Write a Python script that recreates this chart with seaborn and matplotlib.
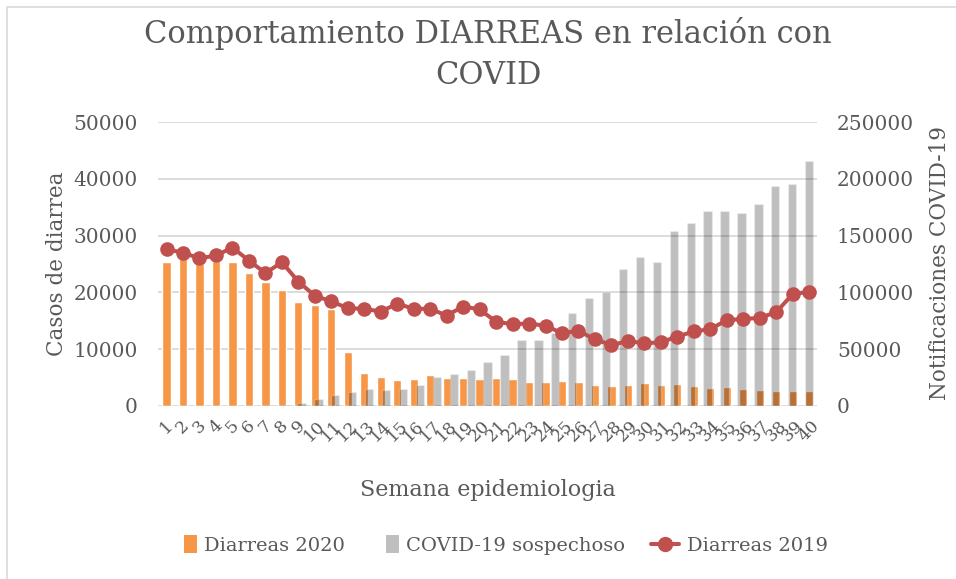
import numpy as np
import pandas as pd
import matplotlib
matplotlib.use("Agg")
import matplotlib.pyplot as plt
import seaborn as sns
from matplotlib.patches import Patch, Rectangle
from matplotlib.lines import Line2D
from matplotlib.legend_handler import HandlerPatch

# ---------------- data ----------------
weeks = list(range(1, 41))
diarreas_2020 = [25300, 26200, 25000, 25500, 25300, 23400, 21800, 20400, 18300, 17800,
                 17000, 9400, 5700, 5100, 4600, 4700, 5400, 4850, 4850, 4700,
                 4950, 4650, 4150, 4250, 4350, 4250, 3700, 3500, 3650, 3950,
                 3650, 3850, 3500, 3100, 3250, 2900, 2800, 2650, 2650, 2650]
diarreas_2019 = [27600, 27000, 26000, 26500, 27900, 25600, 23400, 25300, 21900, 19400,
                 18400, 17200, 17100, 16600, 18000, 17100, 17100, 15900, 17500, 17000,
                 14800, 14400, 14500, 14100, 12800, 13200, 11700, 10700, 11400, 11000,
                 11200, 12200, 13100, 13500, 15100, 15300, 15500, 16500, 19700, 20100]
covid_sospechoso = [0, 0, 0, 0, 0, 0, 0, 300, 600, 2700,
                    5800, 9100, 12100, 15000, 13900, 15000, 18500, 25600, 28000, 31200,
                    38300, 44700, 58000, 58000, 63900, 81500, 95300, 100600, 120600, 131200,
                    127000, 154100, 160900, 171700, 171700, 170200, 178200, 194000, 195500, 215800]
left_ticks = [0, 10000, 20000, 30000, 40000, 50000]
right_ticks = [0, 50000, 100000, 150000, 200000, 250000]

df = pd.DataFrame({"semana": weeks, "d2020": diarreas_2020,
                   "d2019": diarreas_2019, "covid": covid_sospechoso})

# ---------------- style ----------------
ORANGE = "#F79646"
RED = "#C0504D"
TXT = "#595959"
GRID = "#D9D9D9"

sns.set_style("white")
plt.rcParams["font.family"] = ["DejaVu Serif", "DejaVu Sans"]

fig = plt.figure(figsize=(9.56, 5.79), dpi=100)
rect = [158.3 / 956, 1 - 405.7 / 579, (817.4 - 158.3) / 956, 283.4 / 579]
ax_w_px = 817.4 - 158.3
ax_h_px = 283.4

# primary axis: orange bars
ax = fig.add_axes(rect)
sns.barplot(data=df, x="semana", y="d2020", order=weeks, color=ORANGE,
            saturation=1, width=0.5, ax=ax)
ax.set_xlim(-0.5, len(weeks) - 0.5)
ax.set_ylim(0, 50000)
ax.set_yticks(left_ticks)
ax.set_yticklabels([str(v) for v in left_ticks])
ax.yaxis.grid(True, color=GRID, lw=1.3)
ax.set_axisbelow(True)
for s in ax.spines.values():
    s.set_visible(False)
ax.tick_params(axis="y", length=0, pad=15, labelsize=14.5, labelcolor=TXT)
ax.tick_params(axis="x", length=0, pad=8, labelsize=12.5, labelcolor=TXT)
for lab in ax.get_xticklabels():
    lab.set_rotation(45)
    lab.set_ha("center")
    lab.set_va("top")
ax.set_xlabel("Semana epidemiologia", fontsize=16, color=TXT, va="center")
ax.xaxis.set_label_coords((488 - 158.3) / ax_w_px, (405.7 - 490) / ax_h_px)
ax.set_ylabel("Casos de diarrea", fontsize=15.5, color=TXT, va="center", ha="center")
ax.yaxis.set_label_coords((57 - 158.3) / ax_w_px, (405.7 - 263.5) / ax_h_px)

# secondary axis: translucent grey bars (slightly different category spacing)
spacing_ratio = 1.027
n = len(weeks)
def to_gray_units(u):
    return (u - (n - 1) * (1 - spacing_ratio)) / spacing_ratio
axg = fig.add_axes(rect, label="covid")
axg.patch.set_visible(False)
sns.barplot(data=df, x="semana", y="covid", order=weeks, color="black",
            saturation=1, alpha=0.25, width=0.49, ax=axg)
axg.set_xlim(to_gray_units(-0.5), to_gray_units(n - 0.5))
axg.set_ylim(0, 250000)
axg.set_yticks(right_ticks)
axg.set_yticklabels([str(v) for v in right_ticks])
axg.yaxis.tick_right()
axg.yaxis.set_label_position("right")
axg.xaxis.set_visible(False)
for s in axg.spines.values():
    s.set_visible(False)
axg.tick_params(axis="y", length=0, pad=14, labelsize=14.5, labelcolor=TXT)
axg.set_ylabel("Notificaciones COVID-19", fontsize=15.5, color=TXT,
               va="center", ha="center", rotation=90)
axg.yaxis.set_label_coords((940 - 158.3) / ax_w_px, (405.7 - 262.5) / ax_h_px)

# line axis on top
axl = fig.add_axes(rect, label="line")
axl.patch.set_visible(False)
sns.lineplot(x=np.arange(n), y=diarreas_2019, ax=axl, color=RED, lw=2.9,
             marker="o", markersize=10.5, markeredgewidth=0, legend=False)
axl.set_xlim(-0.5, n - 0.5)
axl.set_ylim(0, 50000)
axl.axis("off")

# title
fig.text(488 / 956, 1 - 33 / 579, "Comportamiento DIARREAS en relación con",
         ha="center", va="center", fontsize=22, color=TXT)
fig.text(488 / 956, 1 - 75 / 579, "COVID", ha="center", va="center",
         fontsize=22, color=TXT)

# legend
class SquareHandler(HandlerPatch):
    def create_artists(self, legend, orig_handle, xdescent, ydescent,
                       width, height, fontsize, trans):
        w = 0.65 * fontsize
        h = 0.9 * fontsize
        x0 = -xdescent + width - w
        y0 = -ydescent + (height - h) / 2
        p = Rectangle((x0, y0), w, h, facecolor=orig_handle.get_facecolor(),
                      edgecolor="none", transform=trans)
        return [p]

handles = [Patch(facecolor=ORANGE), Patch(facecolor="#BFBFBF"),
           Line2D([0], [0], color=RED, lw=2.9, marker="o", markersize=11,
                  markeredgewidth=0)]
labels = ["Diarreas 2020", "COVID-19 sospechoso", "Diarreas 2019"]
fig.legend(handles, labels, loc="center", bbox_to_anchor=(498 / 956, 1 - 546 / 579),
           ncol=3, frameon=False, fontsize=14, labelcolor=TXT, handlelength=1.45,
           handletextpad=0.4, columnspacing=1.3,
           handler_map={Patch: SquareHandler()})

# chart-area border
fig.add_artist(Rectangle((7 / 956, -0.05), 1.2, 1 - 7 / 579 + 0.05,
                         transform=fig.transFigure, fill=False,
                         edgecolor=GRID, lw=1.2))

fig.savefig("out.png", dpi=100)
